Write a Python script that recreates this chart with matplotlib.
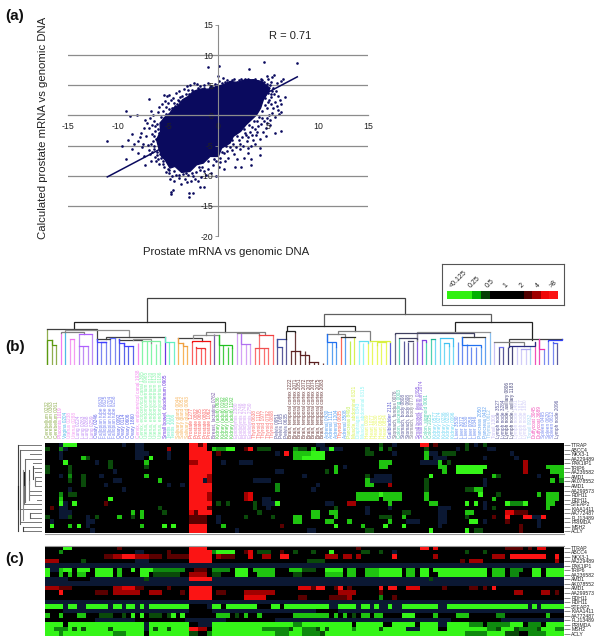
import matplotlib
matplotlib.use("Agg")
import matplotlib.pyplot as plt
import numpy as np
from matplotlib.colors import ListedColormap

plt.rcParams['font.family'] = ['Liberation Sans', 'DejaVu Sans']
plt.rcParams['axes.unicode_minus'] = False
W, H = 600, 642

# ---------- panel (a) ----------
x_ticks = [-15, -10, -5, 0, 5, 10, 15]
y_ticks = [-20, -15, -10, -5, 0, 5, 10, 15]
grid_levels = [-15, -10, -5, 5, 10]
fit_x = [-11.1, 7.9]
fit_y = [-10.2, 6.4]
cloud_x = [-5.9,-6.17,-5.77,-5.83,-5.33,-4.83,-4.5,-4.0,-3.57,-3.0,-2.5,-1.83,-1.0,-0.33,0.5,1.17,1.9,2.67,3.5,4.33,4.83,5.17,
           4.83,4.5,4.23,3.83,3.23,2.77,2.23,1.5,1.17,0.33,0,-0.83,-1.5,-2.17,-2.83,-3.67,-4.33,-4.83,-5.33,-5.67]
cloud_y = [-5.7,-4.03,-2.65,-1.27,-0.28,0.39,1.22,1.6,2.6,3.15,3.98,4.36,4.36,4.7,5.08,5.64,5.47,5.91,5.91,5.64,4.92,4.53,
           3.43,2.6,1.22,0.11,-0.83,-1.55,-2.65,-3.48,-4.59,-5.41,-6.8,-6.8,-7.9,-8.18,-9.28,-9.45,-8.45,-8.73,-7.35,-6.8]
pts = [
 (-11.1,-4.2),(-9.6,-5.1),(-9.2,0.7),(-9.2,-7.2),(-8.6,-3.1),(-8.8,-0.1),(-8.1,0.1),(-6.9,2.8),(-7.7,-2.9),(-7.3,-0.7),
 (-6.7,0.8),(-6.5,0.1),(-9.0,-4.0),(-8.4,-4.7),(-8.0,-4.3),(-7.8,-3.6),(-7.5,-4.7),(-7.2,-3.4),(-7.0,-4.9),(-6.9,-2.1),
 (-6.6,-1.6),(-6.4,-0.9),(-7.1,-1.2),(-6.8,-6.4),(-6.7,-7.6),(-6.2,-7.5),(-6.1,-6.6),(-5.9,-8.0),(-7.4,-6.7),(-7.3,-8.2),
 (-8.0,-6.2),(-6.4,-5.5),(-6.2,-3.9),(-6.3,-2.6),(-6.0,0.5),(-5.9,1.4),(-5.6,1.9),(-5.4,3.4),(-5.1,3.2),(-4.9,3.4),
 (-5.3,2.4),(-5.0,2.0),(-5.5,0.8),(-5.7,-0.3),(-6.1,-1.4),(-5.8,-4.0),(-5.6,-6.2),(-5.4,-8.6),(-5.2,-9.4),(-4.9,-9.6),
 (-5.5,-7.5),(-6.5,-4.2),(-6.6,-3.0),(-6.0,-2.2),(-5.9,-5.3),(-6.3,-6.9),(-5.7,-7.1),(-5.0,-0.6),(-5.3,-1.3),(-5.6,-2.7),
 (-4.6,1.2),(-4.4,2.1),(-4.2,3.7),(-3.9,4.1),(-3.6,3.3),(-3.4,4.4),(-3.1,4.8),(-2.8,5.1),(-2.4,5.3),(-2.1,5.2),
 (-1.8,4.8),(-1.4,5.0),(-1.0,5.4),(-0.8,4.7),(-0.3,5.2),(0.1,5.7),(0.4,5.3),(0.9,5.9),(1.3,5.6),(1.6,6.0),
 (1.9,5.5),(2.3,6.0),(2.7,6.0),(3.1,5.8),(3.5,5.9),(3.9,5.7),(4.3,6.1),(4.6,5.6),(5.0,6.0),(5.3,5.6),
 (5.6,6.7),(5.9,5.3),(6.3,5.7),(6.5,6.0),(7.9,8.7),(4.6,8.8),(-1.0,8.0),(0.1,8.2),(3.1,7.7),(0.0,6.5),
 (0.5,6.2),(5.4,6.4),(4.9,6.5),(-2.9,3.6),(-3.3,2.8),(-4.0,2.6),(-4.5,2.9),(-3.0,4.2),(-1.6,4.4),(-0.2,4.9),
 (1.1,5.2),(2.9,5.4),(4.4,5.3),(5.2,5.0),(5.5,4.6),(5.0,4.3),(5.8,4.0),(5.6,3.6),(6.0,3.3),(5.3,3.0),
 (6.7,3.1),(6.2,2.6),(5.7,2.2),(6.3,1.9),(5.3,1.9),(4.9,1.3),(5.5,1.2),(6.0,0.9),(6.3,0.5),(5.4,0.4),
 (5.1,0.0),(5.7,-0.3),(6.1,0.2),(4.9,-0.5),(4.4,-0.4),(4.6,-1.0),(5.2,-1.6),(4.3,-1.5),(4.8,-2.1),(5.7,-2.9),
 (6.3,-2.5),(3.9,-0.9),(4.0,-1.8),(3.7,-2.3),(4.5,-2.7),(3.4,-2.0),(3.2,-2.8),(3.8,-3.2),(3.0,-3.6),(3.5,-4.0),
 (2.7,-2.9),(2.4,-3.5),(2.9,-4.3),(2.1,-4.1),(2.5,-5.0),(3.3,-5.1),(1.8,-5.2),(2.2,-5.6),(3.0,-6.2),(1.5,-4.8),
 (1.2,-5.3),(0.9,-5.9),(1.6,-6.4),(0.6,-6.2),(1.0,-7.0),(1.9,-7.2),(2.6,-7.0),(0.2,-7.0),(0.7,-7.6),(-0.2,-7.5),
 (-0.5,-8.3),(0.1,-8.5),(4.2,-6.5),(4.2,-5.4),(3.3,-8.2),(3.3,-7.3),(2.3,-8.6),(1.7,-8.6),(-0.2,-10.1),(-1.0,-8.9),
 (-1.4,-9.3),(-1.8,-9.0),(-1.2,-9.8),(-1.7,-10.2),(-2.2,-9.4),(-2.5,-10.1),(-2.7,-10.9),(-2.3,-10.6),(-1.8,-11.8),(-1.4,-11.9),
 (-3.0,-9.9),(-3.3,-10.6),(-3.7,-11.4),(-3.5,-9.7),(-3.9,-10.3),(-4.2,-9.8),(-4.5,-12.4),(-4.7,-13.1),(-4.7,-12.7),(-2.9,-13.5),
 (-2.5,-12.9),(-2.9,-12.9),(-4.4,-10.8),(-4.6,-10.1),(-4.8,-10.6),(-5.0,-8.9),(-3.1,-11.0),(-2.0,-10.9),(-0.7,-9.5),(0.6,-8.9),
 (4.8,-3.4),(4.2,-3.9),(3.7,-4.7),(3.0,-5.4),(4.7,2.9),(5.1,2.5),(5.0,3.7),(-4.3,0.7),(-4.7,-0.2),(-5.2,0.3),
 (-6.8,-0.4),(-7.4,-2.1),(-7.6,-5.3),(-8.6,-5.6),(-6.9,-5.7),(-5.3,-3.6),(-5.5,-4.8),(-5.9,-2.9),(-6.1,-6.0),(-5.2,-6.7),
 (-3.8,3.1),(-4.7,2.5),(-4.1,1.9),(-4.9,1.1),(-5.2,1.4),(-5.4,-0.4),(-6.3,-1.8),(-6.4,-3.4),(-6.7,-4.8),(-6.4,-5.0),
 (-6.6,-6.0),(-6.0,-7.2),(-5.8,-6.4),(-5.5,-8.0),(-4.9,-9.0),(-4.4,-9.2),(-3.9,-9.8),(-3.2,-9.6),(-2.6,-9.6),(-1.9,-8.6),
 (-1.0,-7.6),(-0.4,-7.2),(0.4,-6.0),(0.8,-5.0),(1.4,-4.1),(1.9,-3.4),(2.6,-2.3),(3.1,-1.6),(3.6,-0.9),(4.1,-0.3),
 (4.4,0.8),(4.7,1.8),(5.0,2.2),(5.3,3.6),(5.4,4.1),(4.9,5.2),(4.4,5.9),(3.7,6.0),(3.0,6.1),(2.1,5.9),
 (1.4,5.9),(0.7,5.5),(-0.1,5.0),(-0.7,4.9),(-1.4,4.6),(-2.0,4.6),(-2.6,4.3),(-3.2,3.5),(-3.9,2.4),(-4.3,1.6),
 (5.9,1.5),(5.2,-0.8),(4.9,-1.2),(3.9,-2.7),(3.4,-3.2),(2.8,-3.3),(2.2,-4.8),(1.4,-5.8),(0.2,-7.7),(-1.6,-8.6),
]
scat_x = [p[0] for p in pts]
scat_y = [p[1] for p in pts]

# ---------- panels (b), (c) ----------
genes = ["TTRAP","ABCC4","NKX3-1","AA229489","PAK1IP1","TRIP6","AA236582","AMD1","AK078552","AMD1",
         "AA299573","RDH11","RDH11","STEAP2","KIAA1411","AA772487","FLJ13489","PRIMDA","MSH2","ACLY"]
level_codes = ".ngmGLderR"
level_colors = ["#000000","#0b1833","#0a4a0a","#0f8a0f","#1fc410","#35f518","#5a0000","#a00000","#dd0505","#fb1414"]
heat_b = [
 "3n 20-21n 60-61n 77n 95n 4-6L 17n 32-33R 34d 35-35R 74g 83-84R 86d 93g 97g",
 "0g 3m 4n 20-21n 27e 32-35R 37G 38-39m 40-41L 44d 45R 47-49g 55m 56-57g 59G 61-62n 63L 64-65n 71g 74m 76g 84g 91n 93g 98-99n",
 "3n 20-21n 22n 27n 32-36R 38d 51n 53R 55-56G 57-58G 59-61L 71-72g 77n 84G 85-86n 88-90g 103n",
 "3n 8G 9g 20-21n 23L 27n 32-36R 55-56G 57-61L 84G 86-88n 97n 104n",
 "4L 14g 11n 22G 32-33e 34-36R 39n 43-45n 74-76G 83-86n 87G 89g 106e",
 "0g 5g 14g 22g 32-36R 64G 66n 74-75G 87-88G 91-97L 106e 111-114G",
 "0g 5g 15n 32-36R 51-52n 62g 64G 88G 91-96L 106e 112-114G",
 "3n 5m 8g 12n 22G 32-35R 36e 57n 71g 73-76n 85L 99G 100g 109n 114G",
 "5g 8g 15-16n 25G 32-34R 35n 36e 46-49n 71G 72-76n 84g 97n 112G 114m",
 "8g 13n 27n 30n 32-36R 51m 60n 71-72G 76e 84g 97n",
 "5n 17n 32-35R 36R 51m 59n 84g 93-95g 95-96G",
 "3m 5-6g 32-35R 36e 44e 45r 69-78G 74L 84G 96L 100g 109G 111-113G",
 "3G 14L 32-35R 36e 44e 45r 48-49n 69-73G 75-78G 84G 99G 111-113G",
 "3L 4n 6L 13d 32-36R 38g 40g 46g 48-50n 51L 62-63n 67-68e 76G 85-86G 93L 95L 97n 102L 103-105m 106L 111-112G",
 "1d 3-4n 25g 32-35R 36d 46g 49n 64g 71n 76n 87-89n 99g 97n 111G",
 "3-5n 32r 33d 34-36R 19G 21G 26g 47g 59-60G 63-64G 71n 79-80g 87-88n 93-94G 102-103r 104-106d",
 "0g 3-4n 5g 9n 11g 16G 19g 21G 32-35d 38n 44g 50g 55-56G 59-60G 64G 74-75g 76g 79G 87-88n 93g 99d 102R 106-107R 108-109n 110R",
 "1n 9-10n 32-35d 38n 55-56G 62-63G 67G 76G 80-82n 87-88n 94-95L 97n 102d 109n",
 "1L 5G 7L 9n 21G 26L 28L 32-35R 39G 52d 64L 70G 75L 79L 87n 105d 109n",
 "10n 32-35R 42n 58-59n 71-72g 85L 93L 95-96g 105d",
]
heat_c = [
 "4-5L 16d 32-35R 69d 83-84R 86r 102-105d 107d 109-110r",
 "3m 20-21n 27d 32-36R 37m 38-41L 44d 45r 47-49g 52d 55g 59g 63L 70-71g 74g 77n 93g 97g",
 "13-14d 15-16e 17-19R 20-22e 23-25d 27-31d 32-36R 38e 39-41d 45r 48-49e 52-53R 62-64e 66-67e 69e 77R 86e 99-101e 103-110R 113R",
 "0-2e 8g 20-22n 32-36R 58-61g 92d 94-96e 113e",
 "0-114n",
 "0L 1-2n 3G 4-5L 7-9L 11-14L 16G 19L 21-23L 24-30m 33-35d 37-40m 42-44L 46-50G 54-56G 57-59g 62-65L 67-68G 71-73G 74-78L 80-81G 83-84L 86-97L 99-101G 103-105m 108-109L 111-114L",
 "0L 3G 5G 7-8G 11-14L 16G 21-22L 24-29g 32-35e 37-38g 42-44L 47-50G 55-56g 62-65G 67-68G 71-73G 74-78L 80-81G 83-84L 87-97L 99-101G 103-104m 108-109L 111-114L",
 "0-31n 5-9. 22g 32-36R 37-84n 85g 86-114n",
 "0-114n",
 "0-2e 3d 4-5d 15-16e 17-19r 20-21d 27d 32-36R 56-58r 59d 60-61R 64d 65R 67d 74R 76-77R 80-82r 88d 94-95d 97d 99R",
 "3R 11-13d 15-20e 23-25e 30d 32-36R 38-39d 44-50e 65-68e 74d 104-105e 110-111e 113d",
 "32-36R 44-48r 56-57d 63-66d 67e 74m 77d",
 "0-114n",
 "0-31n 0-3L 5-6L 9-13L 15-16L 18-19L 21L 23-31L 36-38L 40-46L 50-51L 53-62L 36n 63-64n 65-68L 69n 70-71L 72n 73L 74-75n 76L 77-78n 79-86L 87-88n 89-97L 98-106L 107n 108L 109n 110-114L",
 "0-114n 0-3. 32-36. 60-64.",
 "0G 3G 7-8G 12-14g 17g 19L 21L 23-25g 27g 28L 30L 38-40G 42g 44G 47G 55-56G 57-62G 64G 66G 68g 70-71G 73-74G 79-81L 86G 91-93G 100-101m 111G",
 "0-114n 0-10. 20-30. 40-50. 90-100.",
 "0-3L 5-9L 10-21L 23-31L 34-36n 37-54L 55-56m 57-67L 69-74L 77-81L 83-86L 89-93L 94-96m 98-102m 103-105L 107-109m 111-114L 22n 87-88n",
 "0-1L 2-4m 5L 6g 7L 8g 9-13L 14g 15-21L 22n 23L 24g 25-26L 27g 28-31L 32-33R 34-35e 37-47L 48-53m 54g 55-56L 57-59m 60g 61L 62g 63-67L 68m 69-73L 74g 75-79L 80-82n 83-86L 89-97L 98-99m 100g 101-103L 104g 105-108m 109g 110-112L 113-114m",
 "0-2L 3m 4-14L 15-17m 18-21L 23-31L 32-33g 34-35. 36m 37-50L 51-53m 54-56L 57-60m 61g 62-78L 79-92L 93-97m 98-101L 102-104g 105-106. 107-110m 111-114L",
]

legend_labels = ["<0.125","0.25","0.5","1","2","4",">8"]
legend_widths = [3,1,1,2,2,1,1,1,1]
legend_colors = ["#30f010","#00b000","#064006","#000000","#000000","#500000","#a00000","#f00808","#fb1414"]

# tissue groups: (name, codes, colour)
tissue_names = [
 ("Cerebellum",["0232","0363","0261"],"#8fae4e"),("Placenta",["1019"],"#f27cf0"),("Vagina",["0204"],"#4fb8e8"),
 ("Uterus",["0238","0288"],"#f59af2"),("Lung",["0224","0263","0268","0259"],"#bf8cf5"),("Ovary",["0246"],"#5a5ae8"),
 ("Fallopian tube",["0630","0625","0704","0258"],"#7b86f0"),("Ovary",["0092","0114","0606","1860"],"#5a64ea"),
 ("Cervix, endocervical canal",["1938"],"#f589ef"),("Cervix, ectocervical canal",["1365"],"#84f5a8"),
 ("Uterus, endomyometrium",["0965","0120","0130","0186"],"#84f5a8"),("Small bowel, duodenum",["0905"],"#6a35e0"),
 ("Testis",["1019","1006"],"#70f0c8"),("Salivary gland",["0044","0052","0093"],"#f7b45c"),
 ("Prostate",["1277","0802","0605","0803","1062"],"#fa6060"),("Breast, lactating",["0762"],"#7a5aa8"),
 ("Kidney (adult)",["0636","0192","0136","1192"],"#45cc45"),("Epididymis",["2380","2748","2749","2750"],"#d4a2f5"),
 ("Thyroid",["0638","1110","1977","0792","0808"],"#fa7070"),("Pelvis",["0951","1085","0635"],"#5a5a9a"),
 ("Brain, temporal cortex",["2222","2071","2051","2072","2073","2074","2075","2083"],"#6a3a3a"),
 ("Adrenal",["0430","1111","1204"],"#5aa0f0"),("Thyroid",["0635"],"#fa6a5a"),("Adrenal",["3508"],"#5aa0f0"),
 ("Pancreas",["8493"],"#c0f050"),("Muscle, abdominal",["0321"],"#d8f050"),("Diaphragm",["0343"],"#90f5f5"),
 ("Muscle, abdominal",["0315"],"#90f5f5"),("Heart",["0089","1077","3030"],"#e8f860"),("Heart",["0843","0854"],"#e8f860"),
 ("Gallbladder",["2131"],"#5a5ad0"),("Stomach, fundus",["0076"],"#6a6a8a"),("Colon, ascending",["0003"],"#50d0b0"),
 ("Stomach, body",["0808","0608"],"#5a5a9a"),("Stomach, body",["0773"],"#808090"),("Small bowel, ileum",["0395"],"#8a60e0"),
 ("Small bowel, jejunum",["2074"],"#8a60e0"),("Colon, sigmoid",["0061"],"#50d0b0"),("Colon",["2025"],"#50d0b0"),
 ("Kidney",["0577","0274","0236","0238","0096"],"#70d8f5"),("Liver",["3530","3072","0530","0058","0346"],"#6a8cf0"),
 ("Pancreas",["2050","0432"],"#60a0f0"),("Thymus",["0612"],"#8ac0f0"),("Tonsil",["1308"],"#c8c0f5"),
 ("Lymph node",["3527","3284"],"#5a5a9a"),("Lymph node, axillary",["0806","1183"],"#45457a"),
 ("Lymph node",["1491","1817","1820"],"#d0ccf8"),("Tonsil",["0932"],"#a8d8f5"),("Duffycoat",["3045","3689"],"#f050b8"),
 ("Spleen",["0495","0620","0612"],"#7a8af0"),("Lymph node",["2096"],"#5a5a9a"),
]

# leaf heights of the sample dendrogram
leaf_tops = [35.7,25,19.7,32.3,33.3,25.7,25.7,31,19,19,31,26.3,23,23,26.7,26.7,26,22.3,19,19,22.3,24,24,21.7,21,20,27.7,22.7,22.7,
 26.7,21.7,19,23.3,17.7,16.7,16,24,31,30,20,17.7,16.7,32.3,31,20.7,20.7,16.7,30,16.7,16.7,30,25.7,18.3,25.7,14.3,33,14.3,14.3,3.3,3.3,3.3,2.3,
 31,23.3,18.3,28.3,27.7,24,28.3,24,21.7,21.7,23.3,20,21.7,22.7,22.7,31,26.7,24,23.3,23.3,33,25,23.3,25.7,25.7,26.7,21.7,19.3,19.3,23.3,27.7,
 20.7,18.3,18.3,18.3,27.7,33,23.3,17.7,17.7,18.3,19.3,17.7,16,16,19,23.3,25.7,15.7,24.3,22.7,22.3,25.7]
# tree joins: left position, right position, join height, left leg foot, right leg foot, colour
tree_joins = [
 (22,79.3,67,42.7,51,"#404040"),(6,39.3,42.7,35.7,32.7,"#222222"),(61.3,98.4,51,39.3,43.3,"#606060"),
 (0,11,35.7,35.7,26.3,"#404040"),(4,18.2,35,33.3,27.7,"#909090"),(3,8.1,32.7,32.3,31,"#808080"),(13,26,27.7,26,27.7,"#404040"),
 (11,14,25.7,26.3,26.7,"#404040"),(16,21,25,26,24,"#404040"),(19,23,26.5,25,21.7,"#909090"),
 (1,2,19.7,25,19.7,"#5a9a10"),(0,1,25,0,25,"#5a9a10"),
 (5,6,25.7,25.7,25.7,"#f070f0"),(7,10,31,31,31,"#b060ff"),(7,9,19,19,19,"#b060ff"),
 (11,13,23,26,23,"#4040ff"),(12,13,23,23,23,"#4040ff"),(14,15,26.7,26.7,26.7,"#6070ff"),(16,17,22.3,26,22.3,"#4040ff"),
 (17,19,19,22,19,"#4040ff"),(21,25,24,24,20,"#80f0a0"),(26,28,22.7,27.7,22.7,"#60f0c0"),
 (29,34.3,26.7,26.7,24,"#404040"),(32.3,38,30,26.7,30,"#909090"),(35.2,48.3,32.7,30,31,"#808080"),(42,47,31.7,32.3,30,"#808080"),
 (29,30,21.7,26.7,21.7,"#f0a040"),(30,31,19,21.7,19,"#f0a040"),(32,36,24,23.3,24,"#f01010"),
 (33,35,17,17.7,16,"#f03030"),(38,41,20,30,17,"#20c020"),
 (43,45,20.7,31,20.7,"#b070f0"),(47,50,30,30,30,"#f04040"),(46,49,16.7,16.7,16.7,"#f05050"),(51,53,25.7,25.7,25.7,"#4050a0"),
 (51,52,18.3,25.7,18.3,"#4050a0"),(54,56,14.3,14.3,14.3,"#5a2020"),(53.2,68.3,39.3,34.3,34.3,"#222222"),(53,55,34.3,25.7,33,"#222222"),
 (56,58,10,14.3,3.3,"#5a2020"),(58,60,3.3,3.3,3.3,"#5a2020"),
 (64.4,71.5,34.3,31,24,"#808080"),(62,66,31,31,28,"#808080"),(65,68.3,28.3,28.3,28.3,"#303030"),
 (62,64,23.3,31,18.3,"#2070f0"),(69,71,24,24,21.7,"#60e0f0"),
 (71.5,76,24.5,24,22.7,"#d8f040"),(73,75,22.7,20,22.7,"#d8f040"),
 (90.4,107.4,43.3,33.3,25,"#222222"),(82,98,33.3,24,33,"#909090"),(77,94.5,31.7,31,27.7,"#404060"),
 (78,82,26.7,26.7,26,"#404060"),(80,81,24,24,24,"#404060"),(83,84,25,25,23.3,"#8040e0"),(85,86,25.7,25.7,25.7,"#20b090"),
 (87,90,26.7,26.7,19.3,"#40c0f0"),(88,89,22,22,19.3,"#40c0f0"),(92,97,27.7,27.7,27.7,"#404040"),(92,96,20,27.7,18.3,"#2070f0"),
 (102.4,114,25.7,19,25.7,"#404040"),(99,105.6,23.3,23.3,19,"#808080"),(100,101,17.7,17.7,17.7,"#7070f0"),
 (102.4,108,19.3,18.3,23.3,"#2a2a80"),(105,107,16,16,16,"#b0a8f0"),(109,110,15.7,25.7,15.7,"#f030b0"),(111,114,25,24.3,25.7,"#3040f0"),
 (112,113,22.5,22.7,22.3,"#5060f0"),
]
# leaf colours follow the tissue groups
leaf_colors = []
for _n, _c, _col in tissue_names:
    leaf_colors += [_col] * len(_c)

# gene dendrogram: bracket from row a to row b at depth d, colour
gene_brackets = [(0,19,24.3,"#404040"),(1,17.5,21.7,"#606060"),(3,12.5,16.7,"#707070"),(5.5,16.5,19,"#909090"),
 (5.5,8.5,13.3,"#606060"),(4.5,7.5,9.3,"#505050"),(7,9,6.7,"#808080"),(8,12,13,"#808080"),(15,16,12,"#606060"),
 (18,19,19,"#404040"),(6,9,18,"#222222"),(9,14,24.3,"#222222"),(9,13,17.5,"#707070")]
# gene dendrogram arms: row, depth of arm
gene_arms = [(0,24.3),(1,21.7),(2,11.7),(3,16.7),(4,9.3),(5,9.3),(6,6.7),(7,6.7),(8,6.7),(9,6.7),(10,13),(11,13),(12,5),
 (13,17.5),(14,21),(15,12),(16,12),(17,21.7),(18,19),(19,19)]


def ax_px(left, top, right, bottom, **kw):
    return fig.add_axes([left / W, 1 - bottom / H, (right - left) / W, (bottom - top) / H], **kw)


def decode(rows):
    m = np.zeros((len(rows), 115), dtype=int)
    for i, row in enumerate(rows):
        for tok in row.split():
            code = level_codes.index(tok[-1])
            rng = tok[:-1].split("-")
            a, b = int(rng[0]), int(rng[-1])
            m[i, a:b + 1] = code
    return m


fig = plt.figure(figsize=(W / 100, H / 100), dpi=100)

# ---- scatter
ax = ax_px(68.3, 25, 368.3, 236)
ax.set_xlim(-15, 15)
ax.set_ylim(-20, 15)
for lv in grid_levels:
    ax.axhline(lv, color="#8c8c8c", lw=0.9, zorder=0.5)
ax.fill(cloud_x, cloud_y, color="#0a0a5e", lw=1.0, zorder=0.9)
ax.scatter(scat_x, scat_y, s=3.6, color="#0a0a5e", linewidths=0, zorder=1)
ax.plot(fit_x, fit_y, color="#0a0a5e", lw=1.1, zorder=1.2)
for s in ("top", "right"):
    ax.spines[s].set_visible(False)
ax.spines["left"].set_position(("data", 0))
ax.spines["bottom"].set_position(("data", 0))
ax.spines["left"].set_color("#8c8c8c")
ax.spines["bottom"].set_color("#8c8c8c")
ax.spines["left"].set_linewidth(0.8)
ax.spines["bottom"].set_linewidth(0.9)
ax.set_xticks(x_ticks)
ax.set_yticks(y_ticks)
ax.tick_params(axis="x", length=0, pad=4.5, labelsize=6.3, labelcolor="#222222")
ax.tick_params(axis="y", length=2, pad=1.5, width=0.6, color="#8c8c8c", labelsize=6.3, labelcolor="#222222")
ax.patch.set_alpha(0)
ax.text(7.2, 13.1, "R = 0.71", fontsize=8, ha="center", va="center", color="#222222")
fig.text(226 / W, 1 - 252 / H, "Prostate mRNA vs genomic DNA", fontsize=8.2, ha="center", va="center", color="#222222")
fig.text(43 / W, 1 - 128 / H, "Calculated prostate mRNA vs genomic DNA", fontsize=8.2, rotation=90, ha="center", va="center", color="#222222")
for txt, y in (("(a)", 16), ("(b)", 347), ("(c)", 559)):
    fig.text(5 / W, 1 - y / H, txt, fontsize=11, fontweight="bold", ha="left", va="center", color="#111111")

# ---- colour legend
lg = ax_px(442, 263.5, 563.5, 304.5)
lg.set_xlim(0, 1)
lg.set_ylim(0, 1)
lg.set_xticks([])
lg.set_yticks([])
for s in lg.spines.values():
    s.set_color("#555555")
    s.set_linewidth(0.8)
lb = ax_px(446.7, 291, 558, 299.3)
lb.bar(np.cumsum([0] + legend_widths[:-1]), [1] * len(legend_widths), width=legend_widths, align="edge", color=legend_colors, linewidth=0)
lb.set_xlim(0, sum(legend_widths))
lb.set_ylim(0, 1)
lb.axis("off")
for lab, pos in zip(legend_labels, np.linspace(1.4, 12.5, len(legend_labels))):
    lb.annotate(lab, (pos, 1), xytext=(0, 1), textcoords="offset points", rotation=45, fontsize=5, ha="center", va="bottom", color="#222222")

# ---- sample dendrogram
dn = ax_px(45, 295, 564, 365)
dn.set_xlim(-0.5, 114.5)
dn.set_ylim(0, 70)
dn.axis("off")
for i, (top, col) in enumerate(zip(leaf_tops, leaf_colors)):
    dn.plot([i, i], [0, top], color=col, lw=0.9, solid_capstyle="butt")
for xl, xr, h, fl, fr, col in tree_joins:
    dn.plot([xl, xl, xr, xr], [fl, h, h, fr], color=col, lw=0.9, solid_joinstyle="miter")

# ---- sample labels
lbl = ax_px(45, 365, 564, 438)
lbl.set_xlim(-0.5, 114.5)
lbl.set_ylim(0, 1)
lbl.axis("off")
i = 0
for name, codes, col in tissue_names:
    for code in codes:
        lbl.text(i, 0, f"{name} {code}", rotation=90, fontsize=3.45, ha="center", va="bottom", color=col)
        i += 1

# ---- heat maps
cmap = ListedColormap(level_colors)
for rows, top, bot in ((heat_b, 443, 533.5), (heat_c, 545.5, 636)):
    hm = ax_px(45, top, 564, bot)
    hm.imshow(decode(rows), cmap=cmap, vmin=0, vmax=len(level_colors) - 1, aspect="auto", interpolation="nearest")
    hm.set_xticks([])
    hm.yaxis.tick_right()
    hm.set_yticks(range(len(genes)))
    hm.set_yticklabels(genes, fontsize=3.7, color="#222222")
    hm.tick_params(axis="y", which="major", length=4, width=0.6, color="#777777", pad=1.2)
    for s in hm.spines.values():
        s.set_visible(False)
    if rows is heat_b:
        hm.spines["bottom"].set_visible(True)
        hm.spines["bottom"].set_color("#999999")
    else:
        hm.spines["top"].set_visible(True)
        hm.spines["top"].set_color("#999999")

# ---- gene dendrogram
gd = ax_px(17, 443, 42, 533.5)
gd.set_xlim(25, 0)
gd.set_ylim(19.5, -0.5)
gd.axis("off")
for r, d in gene_arms:
    gd.plot([0, d], [r, r], color="#777777", lw=0.7)
for a, b, d, col in gene_brackets:
    gd.plot([d, d], [a, b], color=col, lw=0.8)

fig.savefig("out.png", dpi=100)
